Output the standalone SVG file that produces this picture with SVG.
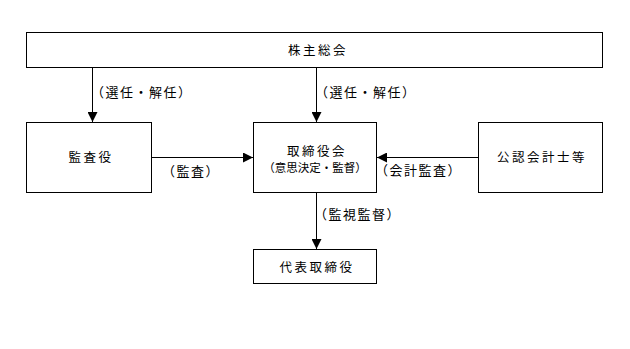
<svg xmlns="http://www.w3.org/2000/svg" width="630" height="349" viewBox="0 0 630 349">
<style>
.box{fill:#fff;stroke:#000;stroke-width:1}
.t{font-family:"Noto Sans CJK JP","Noto Sans CJK SC",sans-serif;font-size:12.5px;fill:#000;text-anchor:middle;letter-spacing:2.5px}
.l{font-family:"Noto Sans CJK JP","Noto Sans CJK SC",sans-serif;font-size:13px;fill:#000;letter-spacing:1.5px}
.s{font-family:"Noto Sans CJK JP","Noto Sans CJK SC",sans-serif;font-size:11.5px;fill:#000;text-anchor:middle}
.c{stroke:#000;stroke-width:1;fill:none}
</style>
<defs>
<marker id="ah" viewBox="0 0 10 10" refX="10" refY="5" markerWidth="10" markerHeight="10" markerUnits="userSpaceOnUse" orient="auto">
<path d="M0,0 L10,5 L0,10 Z" fill="#000"/>
</marker>
</defs>
<g id="connectors">
<line class="c" x1="92.5" y1="67" x2="92.5" y2="122" marker-end="url(#ah)"/>
<line class="c" x1="316.5" y1="67" x2="316.5" y2="122" marker-end="url(#ah)"/>
<line class="c" x1="152" y1="157.5" x2="253" y2="157.5" marker-end="url(#ah)"/>
<line class="c" x1="478" y1="157.5" x2="377" y2="157.5" marker-end="url(#ah)"/>
<line class="c" x1="316.5" y1="192" x2="316.5" y2="249" marker-end="url(#ah)"/>
<text class="l" x="91" y="97">（選任・解任）</text>
<text class="l" x="315" y="97">（選任・解任）</text>
<text class="l" x="162" y="176">（監査）</text>
<text class="l" x="375" y="175">（会計監査）</text>
<text class="l" x="314" y="219">（監視監督）</text>
</g>
<g id="n1"><rect class="box" x="26.5" y="32.5" width="576" height="35"/><text class="t" x="318" y="55">株主総会</text></g>
<g id="n2"><rect class="box" x="26.5" y="122.5" width="125" height="70"/><text class="t" x="91" y="162">監査役</text></g>
<g id="n3"><rect class="box" x="253.5" y="122.5" width="123" height="70"/><text class="t" x="317" y="156">取締役会</text><text class="s" x="315" y="172">（意思決定・監督）</text></g>
<g id="n4"><rect class="box" x="478.5" y="122.5" width="124" height="70"/><text class="t" x="542" y="162">公認会計士等</text></g>
<g id="n5"><rect class="box" x="253.5" y="249.5" width="123" height="34"/><text class="t" x="317" y="272">代表取締役</text></g>
</svg>
